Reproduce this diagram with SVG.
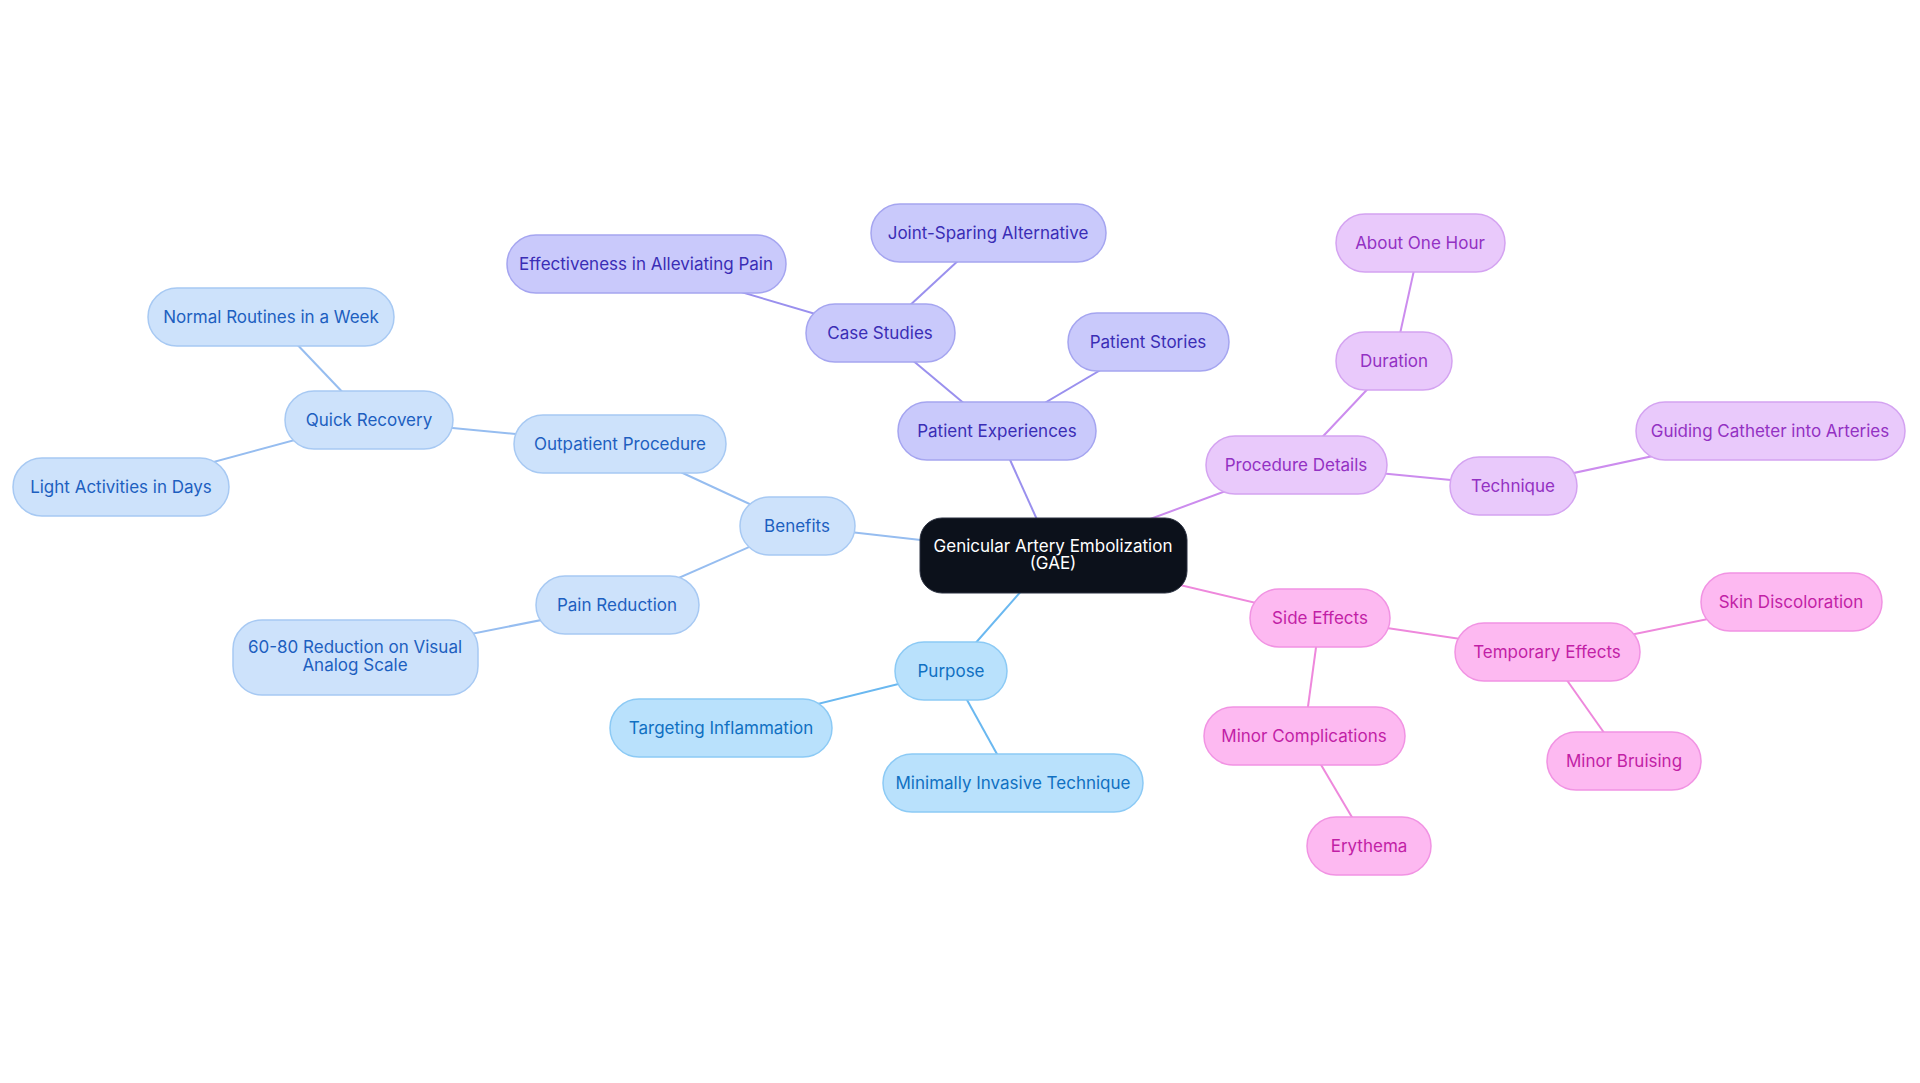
<svg xmlns="http://www.w3.org/2000/svg" width="1920" height="1083" viewBox="0 0 1920 1083">
<style>
text{font-family:Inter,"Noto Sans",sans-serif;font-size:17px;text-anchor:middle;dominant-baseline:central}
.n rect{stroke-width:1.5}
.b rect{fill:#cde2fb;stroke:#a7c9f3}.b text{fill:#1d5fc0}
.p rect{fill:#c9c9fb;stroke:#a5a5f0}.p text{fill:#3a2db5}
.v rect{fill:#e9c9fb;stroke:#d4a3f1}.v text{fill:#9331c3}
.k rect{fill:#fdb9f1;stroke:#f193e3}.k text{fill:#c21fa6}
.u rect{fill:#b9e1fc;stroke:#8ccaf5}.u text{fill:#1070c2}
#edges line{stroke-width:2}
</style>
<rect width="1920" height="1083" fill="#fff"/>
<g id="edges">
<g stroke="#96bdf0"><line x1="1053" y1="555" x2="797" y2="526"/><line x1="797" y1="526" x2="620" y2="444"/><line x1="620" y1="444" x2="369" y2="420"/><line x1="369" y1="420" x2="271" y2="317"/><line x1="369" y1="420" x2="121" y2="487"/><line x1="797" y1="526" x2="617" y2="605"/><line x1="617" y1="605" x2="355" y2="657"/></g>
<g stroke="#6ab8f0"><line x1="1053" y1="555" x2="951" y2="671"/><line x1="951" y1="671" x2="721" y2="728"/><line x1="951" y1="671" x2="1013" y2="783"/></g>
<g stroke="#9a90ee"><line x1="1053" y1="555" x2="997" y2="431"/><line x1="997" y1="431" x2="880" y2="333"/><line x1="880" y1="333" x2="646" y2="264"/><line x1="880" y1="333" x2="988" y2="233"/><line x1="997" y1="431" x2="1148" y2="342"/></g>
<g stroke="#cc8cee"><line x1="1053" y1="555" x2="1296" y2="465"/><line x1="1296" y1="465" x2="1394" y2="361"/><line x1="1394" y1="361" x2="1420" y2="243"/><line x1="1296" y1="465" x2="1513" y2="486"/><line x1="1513" y1="486" x2="1770" y2="431"/></g>
<g stroke="#ee88dc"><line x1="1053" y1="555" x2="1320" y2="618"/><line x1="1320" y1="618" x2="1547" y2="652"/><line x1="1547" y1="652" x2="1791" y2="602"/><line x1="1547" y1="652" x2="1624" y2="761"/><line x1="1320" y1="618" x2="1304" y2="736"/><line x1="1304" y1="736" x2="1369" y2="846"/></g>
</g>
<g id="center"><rect x="920" y="518" width="267" height="75" rx="22" fill="#0c111b" stroke="#2a3040"/><text x="1053" y="546" fill="#fff">Genicular Artery Embolization</text><text x="1053" y="563" fill="#fff">(GAE)</text></g>
<g id="benefits" class="n b"><rect x="740" y="497" width="115" height="58" rx="29"/><text x="797" y="526">Benefits</text></g>
<g id="outpatient" class="n b"><rect x="514" y="415" width="212" height="58" rx="29"/><text x="620" y="444">Outpatient Procedure</text></g>
<g id="quick" class="n b"><rect x="285" y="391" width="168" height="58" rx="29"/><text x="369" y="420">Quick Recovery</text></g>
<g id="normal" class="n b"><rect x="148" y="288" width="246" height="58" rx="29"/><text x="271" y="317">Normal Routines in a Week</text></g>
<g id="light" class="n b"><rect x="13" y="458" width="216" height="58" rx="29"/><text x="121" y="487">Light Activities in Days</text></g>
<g id="pain" class="n b"><rect x="536" y="576" width="163" height="58" rx="29"/><text x="617" y="605">Pain Reduction</text></g>
<g id="vas" class="n b"><rect x="233" y="620" width="245" height="75" rx="29"/><text x="355" y="647">60-80 Reduction on Visual</text><text x="355" y="665">Analog Scale</text></g>
<g id="purpose" class="n u"><rect x="895" y="642" width="112" height="58" rx="29"/><text x="951" y="671">Purpose</text></g>
<g id="targeting" class="n u"><rect x="610" y="699" width="222" height="58" rx="29"/><text x="721" y="728">Targeting Inflammation</text></g>
<g id="minimally" class="n u"><rect x="883" y="754" width="260" height="58" rx="29"/><text x="1013" y="783">Minimally Invasive Technique</text></g>
<g id="patexp" class="n p"><rect x="898" y="402" width="198" height="58" rx="29"/><text x="997" y="431">Patient Experiences</text></g>
<g id="cases" class="n p"><rect x="806" y="304" width="149" height="58" rx="29"/><text x="880" y="333">Case Studies</text></g>
<g id="effect" class="n p"><rect x="507" y="235" width="279" height="58" rx="29"/><text x="646" y="264">Effectiveness in Alleviating Pain</text></g>
<g id="joint" class="n p"><rect x="871" y="204" width="235" height="58" rx="29"/><text x="988" y="233">Joint-Sparing Alternative</text></g>
<g id="stories" class="n p"><rect x="1068" y="313" width="161" height="58" rx="29"/><text x="1148" y="342">Patient Stories</text></g>
<g id="procdet" class="n v"><rect x="1206" y="436" width="181" height="58" rx="29"/><text x="1296" y="465">Procedure Details</text></g>
<g id="duration" class="n v"><rect x="1336" y="332" width="116" height="58" rx="29"/><text x="1394" y="361">Duration</text></g>
<g id="hour" class="n v"><rect x="1336" y="214" width="169" height="58" rx="29"/><text x="1420" y="243">About One Hour</text></g>
<g id="technique" class="n v"><rect x="1450" y="457" width="127" height="58" rx="29"/><text x="1513" y="486">Technique</text></g>
<g id="catheter" class="n v"><rect x="1636" y="402" width="269" height="58" rx="29"/><text x="1770" y="431">Guiding Catheter into Arteries</text></g>
<g id="side" class="n k"><rect x="1250" y="589" width="140" height="58" rx="29"/><text x="1320" y="618">Side Effects</text></g>
<g id="temp" class="n k"><rect x="1455" y="623" width="185" height="58" rx="29"/><text x="1547" y="652">Temporary Effects</text></g>
<g id="skin" class="n k"><rect x="1701" y="573" width="181" height="58" rx="29"/><text x="1791" y="602">Skin Discoloration</text></g>
<g id="bruising" class="n k"><rect x="1547" y="732" width="154" height="58" rx="29"/><text x="1624" y="761">Minor Bruising</text></g>
<g id="minorcomp" class="n k"><rect x="1204" y="707" width="201" height="58" rx="29"/><text x="1304" y="736">Minor Complications</text></g>
<g id="erythema" class="n k"><rect x="1307" y="817" width="124" height="58" rx="29"/><text x="1369" y="846">Erythema</text></g>
</svg>
